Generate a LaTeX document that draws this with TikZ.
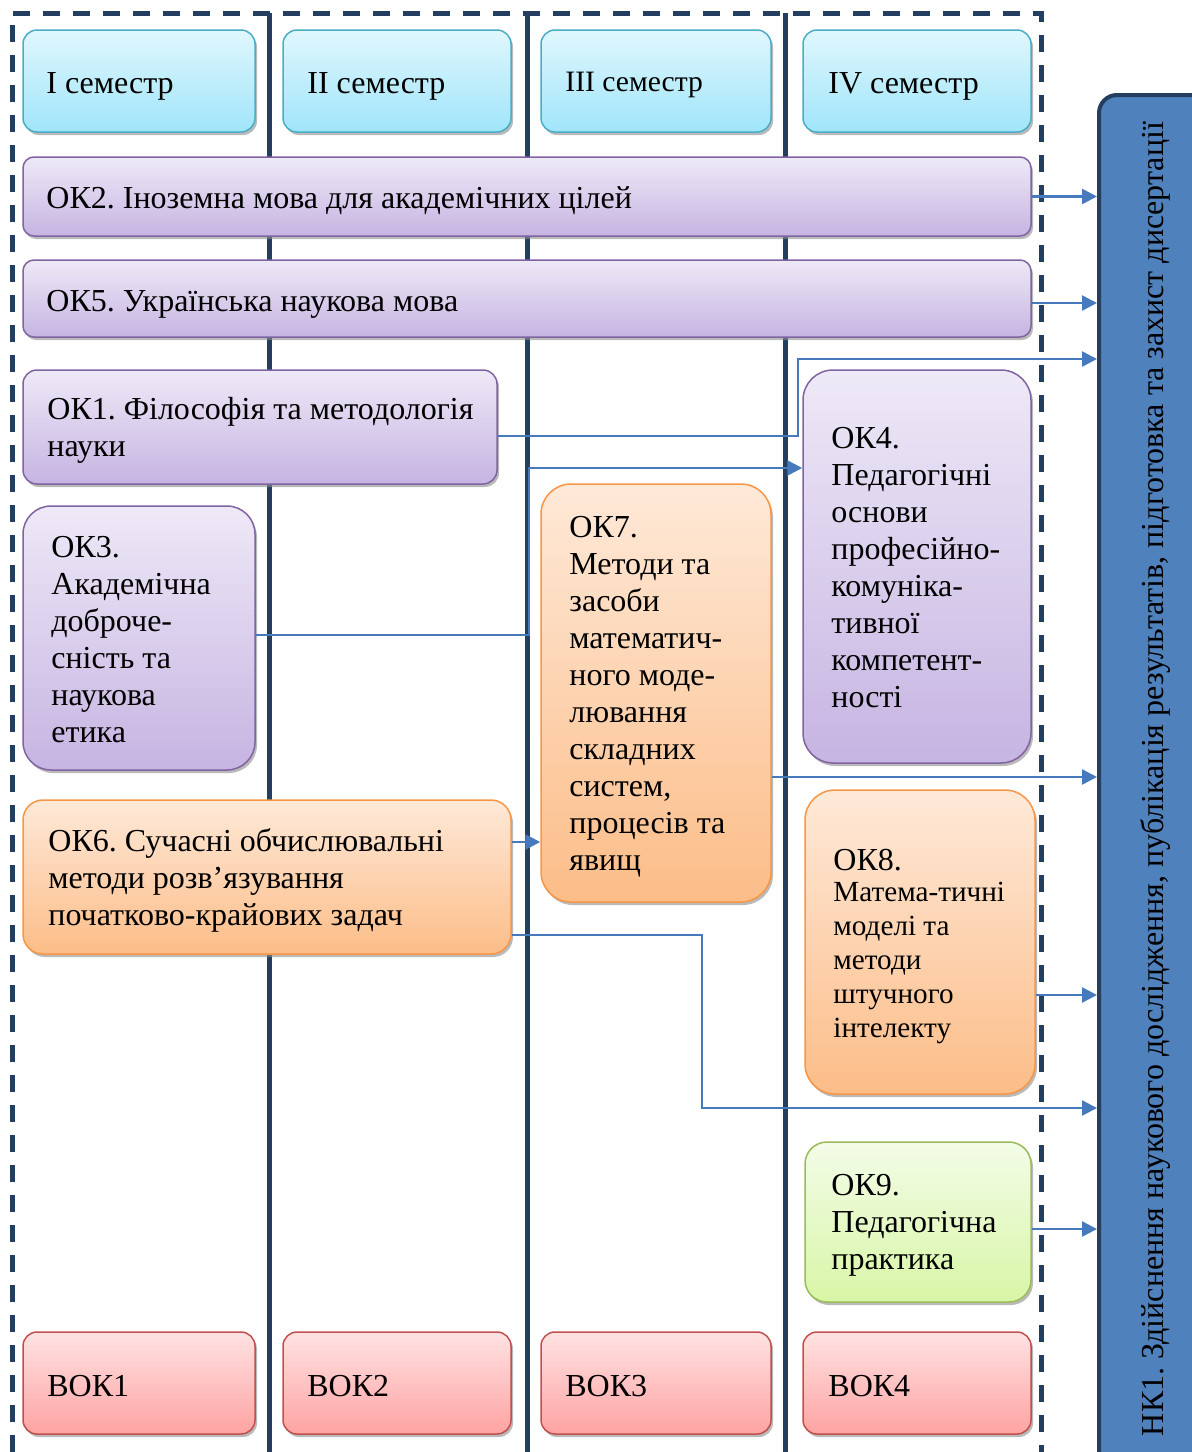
\documentclass[tikz,border=0pt]{standalone}
\usepackage{fontspec}
\setmainfont{Liberation Serif}
\frenchspacing
\usetikzlibrary{shadows,arrows.meta,calc}
\definecolor{frameC}{RGB}{36,62,96}
\definecolor{arrC}{RGB}{70,122,188}
\definecolor{cyT}{RGB}{224,247,253}
\definecolor{cyB}{RGB}{160,229,250}
\definecolor{cyD}{RGB}{75,172,198}
\definecolor{puT}{RGB}{238,233,247}
\definecolor{puB}{RGB}{198,180,226}
\definecolor{puD}{RGB}{128,100,162}
\definecolor{orT}{RGB}{254,233,216}
\definecolor{orB}{RGB}{252,189,136}
\definecolor{orD}{RGB}{247,150,70}
\definecolor{grT}{RGB}{243,252,232}
\definecolor{grB}{RGB}{216,246,166}
\definecolor{grD}{RGB}{155,187,89}
\definecolor{reT}{RGB}{255,226,226}
\definecolor{reB}{RGB}{255,163,163}
\definecolor{reD}{RGB}{192,80,77}
\definecolor{nkF}{RGB}{79,129,189}
\tikzset{
  basebox/.style={line width=0.75pt, inner sep=0pt,
    drop shadow={shadow xshift=1pt,shadow yshift=-1.5pt,fill=black!45,opacity=0.6}},
  cbox/.style={basebox, draw=cyD, top color=cyT, bottom color=cyB},
  pbox/.style={basebox, draw=puD, top color=puT, bottom color=puB},
  obox/.style={basebox, draw=orD, top color=orT, bottom color=orB},
  gbox/.style={basebox, draw=grD, top color=grT, bottom color=grB},
  rbox/.style={basebox, draw=reD, top color=reT, bottom color=reB},
  txt/.style={anchor=west, align=left, inner sep=0pt, font=\fontsize{16}{18.5}\selectfont},
  smalltxt/.style={txt, font=\fontsize{14.6}{17}\selectfont},
  frameline/.style={draw=frameC, line width=2.5pt, dash pattern=on 8.5pt off 6.5pt},
  divider/.style={draw=frameC, line width=2.5pt},
  conn/.style={draw=arrC, line width=1.25pt},
  arr/.style={conn, -{Triangle[length=7.5pt,width=7.5pt]}}
}
\begin{document}
\begin{tikzpicture}[x=0.5pt,y=-0.5pt]
\useasboundingbox (0,0) rectangle (1192,1452);
% frame and dividers
\draw[frameline] (12,1452) -- (12,13) -- (1041,13) -- (1041,1452);
\draw[divider] (269,13) -- (269,1452);
\draw[divider] (527,13) -- (527,1452);
\draw[divider] (785,13) -- (785,1452);
% NK1 box
\node[draw=frameC, line width=2pt, fill=nkF, rounded corners=9pt, minimum width=58pt, minimum height=690pt, inner sep=0pt] (nk) at (1157,785) {};
\node[rotate=90, inner sep=0pt, font=\fontsize{16}{18.5}\selectfont] (nkt) at (1155,779) {НК1. Здійснення наукового дослідження, публікація результатів, підготовка та захист дисертації};
% semester headers
\node[cbox, rounded corners=7pt, minimum width=116pt, minimum height=51pt] (s1) at (139,81) {};
\node[cbox, rounded corners=7pt, minimum width=114pt, minimum height=51pt] (s2) at (397,81) {};
\node[cbox, rounded corners=7pt, minimum width=115pt, minimum height=51pt] (s3) at (656,81) {};
\node[cbox, rounded corners=7pt, minimum width=114pt, minimum height=51pt] (s4) at (917,81) {};
\node[txt] (s1t) at (46,86) {I семестр};
\node[txt] (s2t) at (307,86) {II семестр};
\node[txt, font=\fontsize{14.8}{17}\selectfont] (s3t) at (565,85) {III семестр};
\node[txt] (s4t) at (828,86) {IV семестр};
% long boxes
\node[pbox, rounded corners=5.5pt, minimum width=504pt, minimum height=39.5pt] (ok2) at (527,196.5) {};
\node[txt] (ok2t) at (46,201) {ОК2. Іноземна мова для академічних цілей};
\node[pbox, rounded corners=5.5pt, minimum width=504pt, minimum height=38.5pt] (ok5) at (527,298.5) {};
\node[txt] (ok5t) at (46,304) {ОК5. Українська наукова мова};
\node[pbox, rounded corners=7pt, minimum width=237pt, minimum height=57pt] (ok1) at (260,427) {};
\node[txt] (ok1t) at (47,430) {ОК1. Філософія та методологія\\науки};
\node[pbox, rounded corners=14pt, minimum width=116pt, minimum height=132pt] (ok3) at (139,638) {};
\node[txt] (ok3t) at (51,640) {ОК3.\\Академічна\\доброче-\\сність та\\наукова\\етика};
\node[obox, rounded corners=10pt, minimum width=244pt, minimum height=77pt] (ok6) at (267,877) {};
\node[txt] (ok6t) at (48,880) {ОК6. Сучасні обчислювальні\\методи розв’язування\\початково-крайових задач};
\node[obox, rounded corners=15pt, minimum width=115pt, minimum height=209pt] (ok7) at (656,693) {};
\node[txt] (ok7t) at (569,697) {ОК7.\\Методи та\\засоби\\математич-\\ного моде-\\лювання\\складних\\систем,\\процесів та\\явищ};
\node[pbox, rounded corners=15pt, minimum width=114pt, minimum height=196.5pt] (ok4) at (917,566.5) {};
\node[txt] (ok4t) at (831,568) {ОК4.\\Педагогічні\\основи\\професійно-\\комуніка-\\тивної\\компетент-\\ності};
\node[obox, rounded corners=15pt, minimum width=115pt, minimum height=152pt] (ok8) at (920,942) {};
\node[txt] (ok8t) at (833,860) {ОК8.};
\node[smalltxt] (ok8b) at (833,963) {Матема-тичні\\моделі та\\методи\\штучного\\інтелекту};
\node[gbox, rounded corners=11pt, minimum width=113pt, minimum height=80pt] (ok9) at (918,1222) {};
\node[txt] (ok9t) at (831,1225) {ОК9.\\Педагогічна\\практика};
% bottom boxes
\node[rbox, rounded corners=7pt, minimum width=116pt, minimum height=51pt] (b1) at (139,1383) {};
\node[rbox, rounded corners=7pt, minimum width=114pt, minimum height=51pt] (b2) at (397,1383) {};
\node[rbox, rounded corners=7pt, minimum width=115pt, minimum height=51pt] (b3) at (656,1383) {};
\node[rbox, rounded corners=7pt, minimum width=114pt, minimum height=51pt] (b4) at (917,1383) {};
\node[txt] (b1t) at (47,1386) {ВОК1};
\node[txt] (b2t) at (307,1386) {ВОК2};
\node[txt] (b3t) at (565,1386) {ВОК3};
\node[txt] (b4t) at (828,1386) {ВОК4};
% connectors
\draw[arr] (ok2.east) -- (ok2.east -| nk.west);
\coordinate (p5) at ([yshift=-2.25pt]ok5.east);
\draw[arr] (p5) -- (p5 -| nk.west);
\coordinate (p1) at ([yshift=-4.5pt]ok1.east);
\coordinate (c1) at (798,359);
\draw[arr] (p1) -| (c1) -- (c1 -| nk.west);
\coordinate (p3) at ([yshift=1.5pt]ok3.east);
\coordinate (c2) at (529,468);
\draw[arr] (p3) -| (c2) -- (c2 -| ok4.west);
\coordinate (p6a) at ([yshift=17.5pt]ok6.east);
\draw[arr] (p6a) -- (p6a -| ok7.west);
\coordinate (p6b) at ([yshift=-29pt]ok6.east);
\coordinate (c3) at (702,1108);
\draw[arr] (p6b) -| (c3) -- (c3 -| nk.west);
\coordinate (p7) at ([yshift=-42pt]ok7.east);
\draw[arr] (p7) -- (p7 -| nk.west);
\coordinate (p8) at ([yshift=-26.5pt]ok8.east);
\draw[arr] (p8) -- (p8 -| nk.west);
\coordinate (p9) at ([yshift=-3.5pt]ok9.east);
\draw[arr] (p9) -- (p9 -| nk.west);
\end{tikzpicture}
\end{document}
